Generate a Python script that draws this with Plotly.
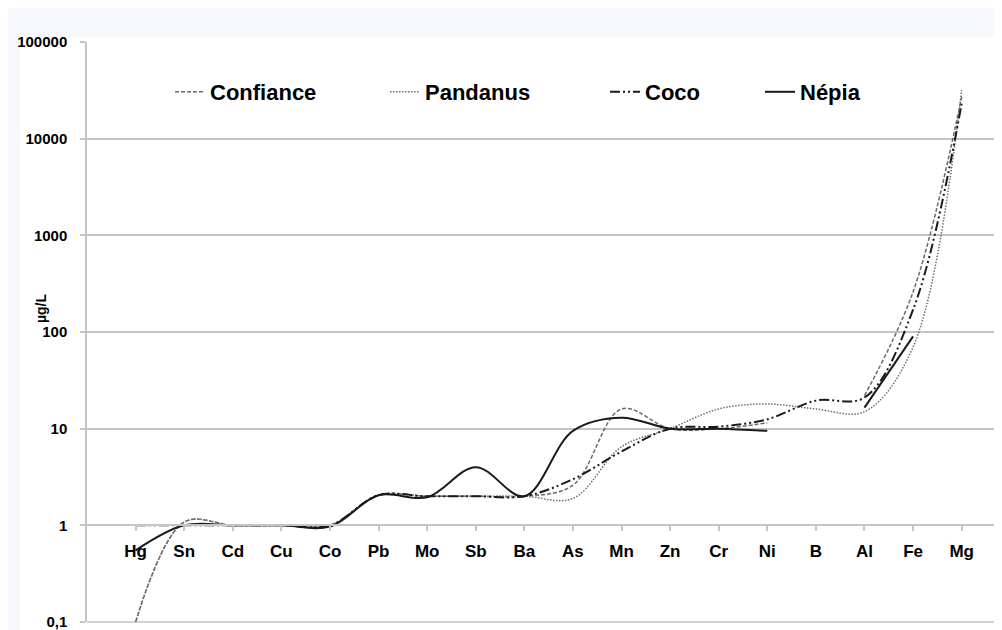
import plotly.graph_objects as go

# elements along the x axis
categories = ["Hg", "Sn", "Cd", "Cu", "Co", "Pb", "Mo", "Sb", "Ba", "As",
              "Mn", "Zn", "Cr", "Ni", "B", "Al", "Fe", "Mg"]

# concentrations in µg/L (None = no value)
confiance = [0.1, 1.08, 1.0, 1.0, 1.0, 2.05, 2.0, 2.0, 2.0, 2.6,
             16, 10, 10, 11.5, None, 22, 260, 27000]
pandanus = [0.1, 1.08, 1.0, 1.0, 1.0, 2.05, 2.0, 2.0, 2.0, 1.9,
            6.5, 10, 16, 18, 16, 15, 70, 32000]
coco = [1.0, 1.0, 1.0, 1.0, 1.0, 2.05, 2.0, 2.0, 2.0, 3.0,
        5.8, 10, 10.5, 12.5, 19.5, 21, 170, 23000]
nepia = [0.55, 1.0, 1.0, 1.0, 0.97, 2.05, 1.95, 4.0, 2.0, 9.5,
         13, 10, 10, 9.5, None, 16.5, 90, None]

y_ticks = [0.1, 1, 10, 100, 1000, 10000, 100000]
y_ticktext = ["0,1", "1", "10", "100", "1000", "10000", "100000"]

FONT = "Liberation Sans, Arial, sans-serif"
GRID = "#c4c4c4"

series = [
    ("Confiance", confiance, dict(color="#6a6a6a", width=1.5, dash="4px,2px"), "legend"),
    ("Pandanus", pandanus, dict(color="#6e6e6e", width=1.5, dash="1.5px,1.5px"), "legend2"),
    ("Coco", coco, dict(color="#1a1a1a", width=2, dash="10px,3px,2px,3px,2px,3px"), "legend3"),
    ("Népia", nepia, dict(color="#1a1a1a", width=2), "legend4"),
]

fig = go.Figure()
for name, vals, line, leg in series:
    fig.add_trace(go.Scatter(
        x=categories, y=vals, name=name, mode="lines",
        line=dict(shape="spline", smoothing=1, **line),
        connectgaps=False, legend=leg, showlegend=True,
    ))

# page body has an 8px margin; plot area wanted at window x 87..1002, y 42..622
OFF = 8
W, H = 1002 - OFF, 630 - OFF
L, T = 87 - OFF, 42 - OFF
PW, PH = W - L, 580

def px_x(p):
    return (p - 87) / float(PW)

def px_y(p):
    return (622 - p) / float(PH)

leg_style = dict(orientation="h", yanchor="middle", y=px_y(92), xanchor="left",
                 bgcolor="rgba(0,0,0,0)",
                 font=dict(family=FONT, size=22, color="#000000", weight="bold"))

fig.update_layout(
    width=W, height=H,
    margin=dict(l=L, r=0, t=T, b=H - T - PH),
    showlegend=True,
    paper_bgcolor="#f6f8fc",
    plot_bgcolor="#ffffff",
    legend=dict(x=px_x(170), **leg_style),
    legend2=dict(x=px_x(385), **leg_style),
    legend3=dict(x=px_x(605), **leg_style),
    legend4=dict(x=px_x(760), **leg_style),
    xaxis=dict(
        type="category", range=[-1, 17.83],
        anchor="free", position=1 / 6.0,
        showgrid=False, zeroline=False,
        showline=True, linecolor=GRID, linewidth=1.5,
        ticks="outside", ticklen=5, tickcolor=GRID, tickwidth=1.5,
        ticklabelstandoff=6,
        tickfont=dict(family=FONT, size=17, color="#000000", weight="bold"),
    ),
    yaxis=dict(
        type="log", range=[-1, 5],
        tickvals=y_ticks, ticktext=y_ticktext,
        showgrid=True, gridcolor=GRID, gridwidth=1.5,
        showline=True, linecolor=GRID, linewidth=1.5,
        ticks="outside", ticklen=5, tickcolor=GRID, tickwidth=1.5,
        ticklabelstandoff=10, ticklabeloverflow="allow",
        zeroline=False,
        tickfont=dict(family=FONT, size=15, color="#000000", weight="bold"),
    ),
    shapes=[
        dict(type="rect", xref="paper", yref="paper", layer="below",
             x0=px_x(20), x1=1.0, y0=px_y(640), y1=px_y(37),
             fillcolor="#ffffff", line=dict(width=0)),
        dict(type="line", xref="paper", yref="paper", layer="below",
             x0=0, x1=1, y0=0, y1=0, line=dict(color=GRID, width=1.5)),
    ],
    annotations=[dict(text="µg/L", xref="paper", yref="paper",
                      x=px_x(31), y=px_y(308), textangle=-90, showarrow=False,
                      font=dict(family=FONT, size=14, color="#000000", weight="bold"))],
)

fig.write_html("out.html")
